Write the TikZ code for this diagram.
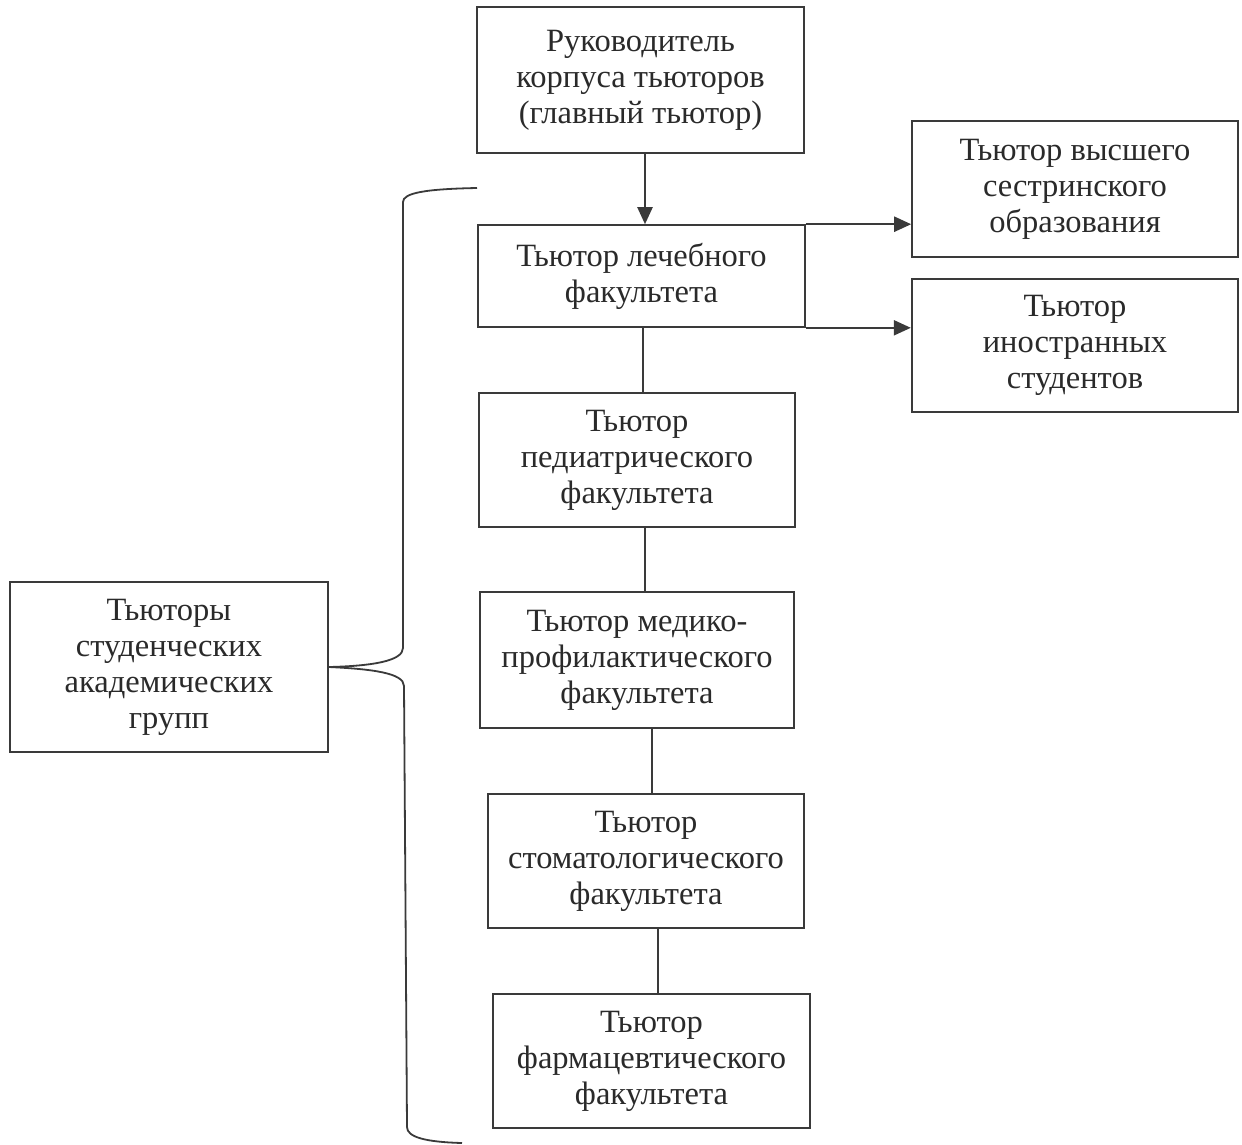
\documentclass[tikz,border=0pt]{standalone}
\usepackage{fontspec}
\setmainfont{Liberation Serif}
\usetikzlibrary{arrows.meta}
\definecolor{ink}{HTML}{3A3A3A}
\definecolor{txt}{HTML}{2A2A2A}
\tikzset{
  box/.style={draw=ink, line width=1.6pt, rectangle, inner sep=0pt, align=center,
    text=txt, font=\fontsize{32.5}{36}\selectfont},
  link/.style={draw=ink, line width=1.6pt},
  arr/.style={draw=ink, line width=2.2pt, -{Triangle[length=17pt,width=15pt]}},
  bracepath/.style={draw=ink, line width=1.8pt}
}
\begin{document}
\begin{tikzpicture}[x=1pt,y=-1pt]
\useasboundingbox[fill=white] (0,0) rectangle (1242,1144);

\node[box, minimum width=327, minimum height=146] (top) at (640.5,80) {Руководитель\\корпуса тьюторов\\(главный тьютор)};
\node[box, minimum width=327, minimum height=102] (lech) at (641.5,276) {Тьютор лечебного\\факультета};
\node[box, minimum width=326, minimum height=136] (r1) at (1075,189) {Тьютор высшего\\сестринского\\образования};
\node[box, line width=2.4pt, minimum width=326, minimum height=133] (r2) at (1075,345.5) {Тьютор\\иностранных\\студентов};
\node[box, minimum width=316, minimum height=134] (ped) at (637,460) {Тьютор\\педиатрического\\факультета};
\node[box, minimum width=314, minimum height=136] (med) at (637,660) {Тьютор медико-\\профилактического\\факультета};
\node[box, minimum width=316, minimum height=134] (stom) at (646,861) {Тьютор\\стоматологического\\факультета};
\node[box, minimum width=317, minimum height=134] (pharm) at (651.5,1061) {Тьютор\\фармацевтического\\факультета};
\node[box, minimum width=318, minimum height=170] (left) at (169,667) {Тьюторы\\студенческих\\академических\\групп};

% connectors
\draw[arr] ([xshift=4.5pt]top.south) -- ([xshift=4.5pt]top.south |- lech.north);
\draw[arr] (lech.north east) -- (lech.north east -| r1.west);
\draw[arr] (lech.south east) -- (lech.south east -| r2.west);
\draw[link] ([xshift=1.5pt]lech.south) -- ([xshift=1.5pt]lech.south |- ped.north);
\draw[link] ([xshift=8pt]ped.south) -- ([xshift=8pt]ped.south |- med.north);
\draw[link] ([xshift=15pt]med.south) -- ([xshift=15pt]med.south |- stom.north);
\draw[link] ([xshift=12pt]stom.south) -- ([xshift=12pt]stom.south |- pharm.north);

% brace
\coordinate (tip) at (left.east);
\draw[bracepath] (477,188) .. controls (425,189) and (403,193) .. (403,202)
  -- (403,648) .. controls (403,661) and (372,666) .. (tip);
\draw[bracepath] (tip) .. controls (372,669) and (404,673) .. (404,686)
  -- (407,1127) .. controls (407,1137) and (425,1142) .. (462,1143);
\end{tikzpicture}
\end{document}
